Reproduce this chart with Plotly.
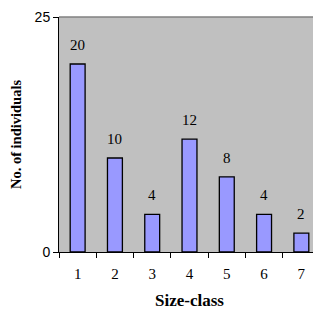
import plotly.graph_objects as go

size_classes = ["1", "2", "3", "4", "5", "6", "7"]
individuals = [20, 10, 4, 12, 8, 4, 2]
y_ticks = [0, 25]

fig = go.Figure()
fig.add_trace(go.Bar(
    x=size_classes, y=individuals, width=0.4,
    marker=dict(color="#9999FF", line=dict(color="black", width=1.3)),
    hoverinfo="skip",
))
for i, v in enumerate(individuals):
    fig.add_annotation(x=i, y=v, text=str(v), showarrow=False, yanchor="bottom",
                       yshift=9, font=dict(family="Liberation Serif", size=15, color="black"))

# page body has an 8px default margin, so the figure is sized/offset to compensate
fig.update_layout(
    width=313, height=302, margin=dict(l=51, r=1, t=9, b=58),
    paper_bgcolor="white", plot_bgcolor="#C0C0C0", showlegend=False,
    xaxis=dict(type="category", tickson="boundaries", ticks="outside", ticklen=5, tickcolor="black",
               showline=True, linecolor="black", linewidth=1, mirror=False, showgrid=False,
               automargin=False, ticklabelstandoff=8,
               tickfont=dict(family="Liberation Serif", size=15, color="black"),
               title=dict(text="<b>Size-class</b>", font=dict(family="Liberation Serif", size=17, color="black"), standoff=14)),
    yaxis=dict(range=[0, 25], tickvals=y_ticks, ticks="outside", ticklen=5, tickcolor="black",
               showline=True, linecolor="black", linewidth=1, showgrid=False, zeroline=False,
               automargin=False,
               tickfont=dict(family="Liberation Sans", size=14, color="black"),
               title=dict(text="<b>No. of individuals</b>", font=dict(family="Liberation Serif", size=14.5, color="black"), standoff=14)),
)
fig.add_shape(type="line", xref="paper", yref="paper", x0=0, x1=1, y0=1, y1=1, line=dict(color="#808080", width=1.5))
fig.add_shape(type="line", xref="paper", yref="paper", x0=1, x1=1, y0=0, y1=1, line=dict(color="#808080", width=1.5))
fig.write_html("out.html", config={"displayModeBar": False})
